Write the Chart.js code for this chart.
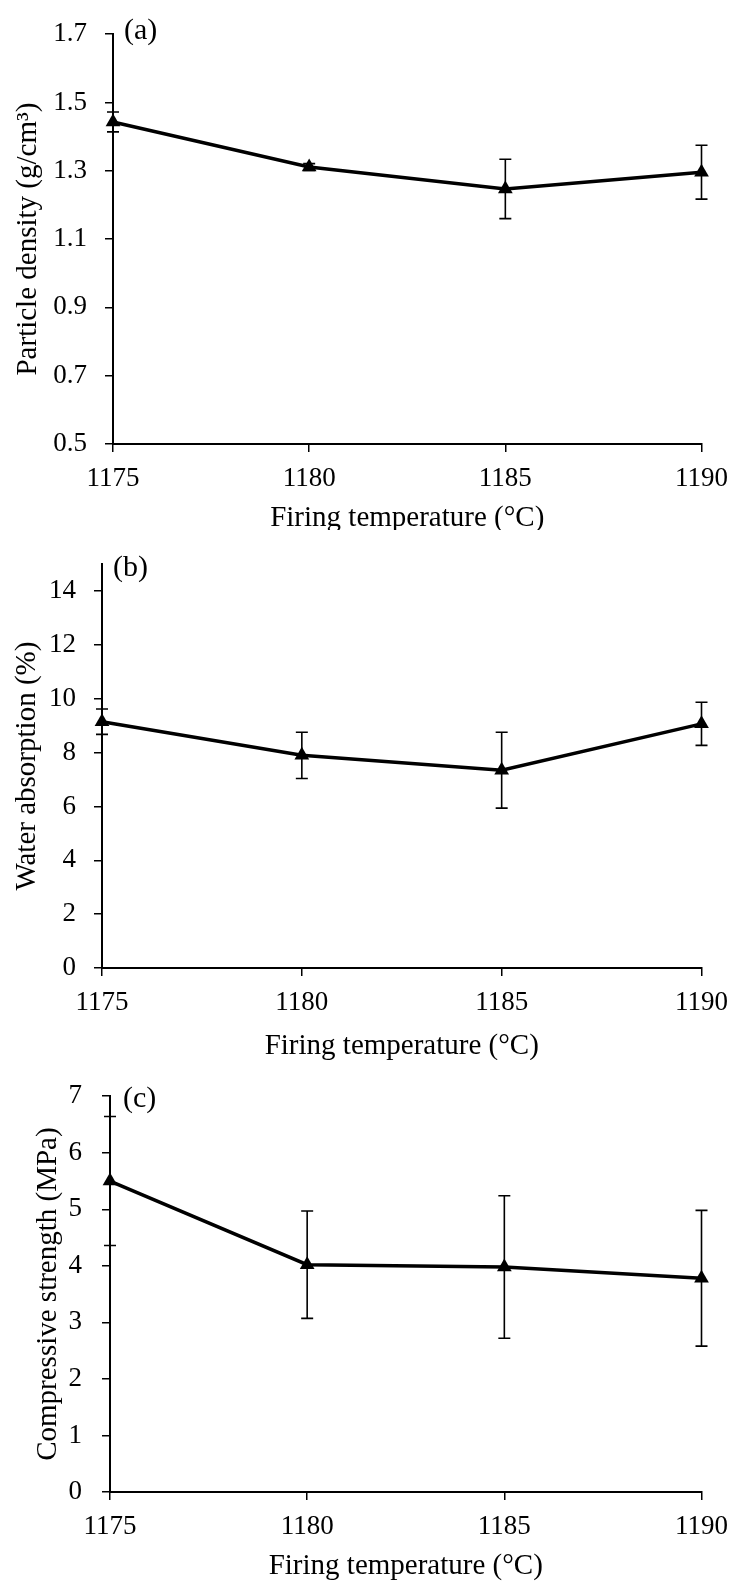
<!DOCTYPE html>
<html lang="en">
<head>
    <meta charset="UTF-8">
    <title>Firing temperature effects</title>
    <script src="https://cdn.jsdelivr.net/npm/chart.js"></script>
    <style>
        body {
            margin: 0;
            padding: 0;
            background: white;
        }
        canvas {
            display: block;
        }
    </style>
</head>
<body>
    <canvas id="chartA" width="739" height="530"></canvas>
    <canvas id="chartB" width="739" height="530"></canvas>
    <canvas id="chartC" width="739" height="531"></canvas>

    <script>
        // data
        const temps = [1175, 1180, 1185, 1190];

        const densityMean = [1.443, 1.311, 1.247, 1.296];
        const densityErr = [0.029, 0.01, 0.087, 0.079];
        const densityTicks = [0.5, 0.7, 0.9, 1.1, 1.3, 1.5, 1.7];

        const absorptionMean = [9.15, 7.90, 7.35, 9.07];
        const absorptionErr = [0.47, 0.86, 1.41, 0.80];
        const absorptionTicks = [0, 2, 4, 6, 8, 10, 12, 14];
        const absorptionMax = 15;

        const strengthMean = [5.50, 4.02, 3.98, 3.78];
        const strengthErr = [1.14, 0.95, 1.26, 1.20];
        const strengthTicks = [0, 1, 2, 3, 4, 5, 6, 7];

        const panelLabels = ['(a)', '(b)', '(c)'];
        const yTitles = ['Particle density (g/cm³)', 'Water absorption (%)', 'Compressive strength (MPa)'];
        const xTitle = 'Firing temperature (°C)';

        const FONT = "'Liberation Serif', 'Times New Roman', serif";

        // vertical error bars with caps, drawn under the line
        const errorBars = {
            id: 'errorBars',
            beforeDatasetsDraw(chart, args, opts) {
                const ctx = chart.ctx;
                const xs = chart.scales.x, ys = chart.scales.y;
                const ds = chart.data.datasets[0].data;
                ctx.save();
                ctx.strokeStyle = '#000';
                ctx.lineWidth = 1.6;
                ds.forEach((p, i) => {
                    const e = opts.errors[i];
                    const x = xs.getPixelForValue(p.x);
                    const y1 = ys.getPixelForValue(p.y + e);
                    const y2 = ys.getPixelForValue(p.y - e);
                    ctx.beginPath();
                    ctx.moveTo(x, y1); ctx.lineTo(x, y2);
                    ctx.moveTo(x - 6, y1); ctx.lineTo(x + 6, y1);
                    ctx.moveTo(x - 6, y2); ctx.lineTo(x + 6, y2);
                    ctx.stroke();
                });
                ctx.restore();
            }
        };

        const panelLabel = {
            id: 'panelLabel',
            afterDraw(chart, args, opts) {
                const ctx = chart.ctx;
                ctx.save();
                ctx.font = '30px ' + FONT;
                ctx.fillStyle = '#000';
                ctx.textBaseline = 'middle';
                ctx.fillText(opts.text, chart.chartArea.left + opts.dx, opts.y);
                ctx.restore();
            }
        };

        function makePanel(id, mean, err, tickVals, yMax, decimals, label, yTitle, lay) {
            const H = document.getElementById(id).height;
            return new Chart(document.getElementById(id), {
                type: 'line',
                data: {
                    datasets: [{
                        data: temps.map((t, i) => ({ x: t, y: mean[i] })),
                        borderColor: '#000',
                        borderWidth: 3.5,
                        tension: 0,
                        pointStyle: 'triangle',
                        pointRadius: 8.5,
                        pointBackgroundColor: '#000',
                        pointBorderColor: '#000',
                        pointBorderWidth: 0,
                        clip: false
                    }]
                },
                options: {
                    responsive: false,
                    animation: false,
                    layout: {
                        padding: { left: 0, right: 739 - lay.right, top: lay.top, bottom: 0 }
                    },
                    plugins: {
                        legend: { display: false },
                        tooltip: { enabled: false },
                        errorBars: { errors: err },
                        panelLabel: { text: label, dx: lay.labelDx, y: lay.labelY }
                    },
                    scales: {
                        x: {
                            type: 'linear',
                            min: temps[0],
                            max: temps[temps.length - 1],
                            afterFit: s => { s.height = H - lay.bottom; },
                            afterBuildTicks: s => { s.ticks = temps.map(v => ({ value: v })); },
                            grid: { drawOnChartArea: false, drawTicks: true, tickLength: 8, color: '#000', lineWidth: 1.5 },
                            border: { color: '#000', width: 2 },
                            ticks: {
                                color: '#000', padding: 11, maxRotation: 0,
                                font: { family: FONT, size: 27 },
                                callback: v => String(v)
                            },
                            title: {
                                display: true, text: xTitle, color: '#000',
                                font: { family: FONT, size: 29, lineHeight: '24px' },
                                padding: { top: 0, bottom: lay.xTitlePad }
                            }
                        },
                        y: {
                            min: tickVals[0],
                            max: yMax,
                            bounds: 'data',
                            afterFit: s => { s.width = lay.left; },
                            afterBuildTicks: s => { s.ticks = tickVals.map(v => ({ value: v })); },
                            grid: { drawOnChartArea: false, drawTicks: true, tickLength: 8, color: '#000', lineWidth: 1.5 },
                            border: { color: '#000', width: 2 },
                            ticks: {
                                color: '#000',
                                padding: lay.tickPad,
                                font: { family: FONT, size: 27 },
                                callback: v => v.toFixed(decimals)
                            },
                            title: {
                                display: true, text: yTitle, color: '#000',
                                font: { family: FONT, size: 29, lineHeight: '24px' },
                                padding: { top: lay.yTitlePad, bottom: 0 }
                            }
                        }
                    }
                },
                plugins: [errorBars, panelLabel]
            });
        }

        makePanel('chartA', densityMean, densityErr, densityTicks, densityTicks[densityTicks.length - 1], 1,
            panelLabels[0], yTitles[0],
            { left: 113, right: 704, top: 23, bottom: 444, tickPad: 18, xTitlePad: 0, yTitlePad: 16, labelDx: 11, labelY: 31 });
        makePanel('chartB', absorptionMean, absorptionErr, absorptionTicks, absorptionMax, 0,
            panelLabels[1], yTitles[1],
            { left: 102, right: 704, top: 33, bottom: 438, tickPad: 18, xTitlePad: 1.5, yTitlePad: 15.5, labelDx: 11, labelY: 38 });
        makePanel('chartC', strengthMean, strengthErr, strengthTicks, strengthTicks[strengthTicks.length - 1], 0,
            panelLabels[2], yTitles[2],
            { left: 110, right: 704, top: 32, bottom: 432, tickPad: 20, xTitlePad: 12.5, yTitlePad: 36, labelDx: 13, labelY: 39 });
    </script>
</body>
</html>
